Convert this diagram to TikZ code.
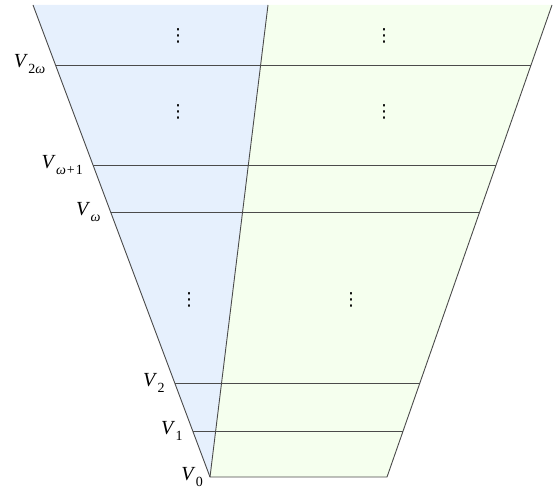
\documentclass[tikz,border=0pt]{standalone}
\usepackage{fontspec}
\setmainfont{Liberation Serif}
\newfontfamily\dvfont{DejaVu Sans}
\usetikzlibrary{calc}
\definecolor{bluef}{RGB}{230,240,253}
\definecolor{greenf}{RGB}{245,255,238}
\definecolor{edgec}{RGB}{75,75,75}
\newcommand{\Vlab}[1]{\textit{V}\kern0.3pt\raisebox{-0.3em}{\fontsize{14}{14}\selectfont #1}}
\tikzset{
  edgeline/.style={draw=edgec, line width=0.9pt},
  vlabel/.style={anchor=base east, inner sep=2pt, xshift=-8pt, yshift=-3pt, font=\fontsize{20}{22}\selectfont},
  dotsnode/.style={inner sep=0pt, font=\dvfont\fontsize{18}{20}\selectfont}
}
\begin{document}
\begin{tikzpicture}[x=1pt,y=-1pt]
\useasboundingbox (0,0) rectangle (554,489);
\coordinate (O) at (210,477);
\coordinate (R) at (387,477);
\coordinate (TL) at (33,5);
\coordinate (TM) at (268,5);
\coordinate (TR) at (552,5);
\fill[bluef] (TL) -- (TM) -- (O) -- cycle;
\fill[greenf] (TM) -- (TR) -- (R) -- (O) -- cycle;
\foreach \n/\y/\lab in {a/65/{2\textit{ω}}, b/165/{\textit{ω}\kern1pt+\kern1pt1}, c/212/{\textit{ω}}, d/383/{2}, e/431/{1}} {
  \coordinate (L\n) at ($(O)!{(477-\y)/472}!(TL)$);
  \coordinate (R\n) at ($(R)!{(477-\y)/472}!(TR)$);
  \draw[edgeline] (L\n) -- (R\n);
  \node[vlabel] (lab\n) at (L\n) {\Vlab{\lab}};
}
\node[vlabel, xshift=3pt] (lab0) at (O) {\Vlab{0}};
\draw[edgeline] (TL) -- (O) -- (R) -- (TR);
\draw[edgeline] (O) -- (TM);
\node[dotsnode] (d1) at (178,36) {⋮};
\node[dotsnode] (d2) at (384,36) {⋮};
\node[dotsnode] (d3) at (178,112) {⋮};
\node[dotsnode] (d4) at (384,112) {⋮};
\node[dotsnode] (d5) at (189,300) {⋮};
\node[dotsnode] (d6) at (351,300) {⋮};
\end{tikzpicture}
\end{document}
